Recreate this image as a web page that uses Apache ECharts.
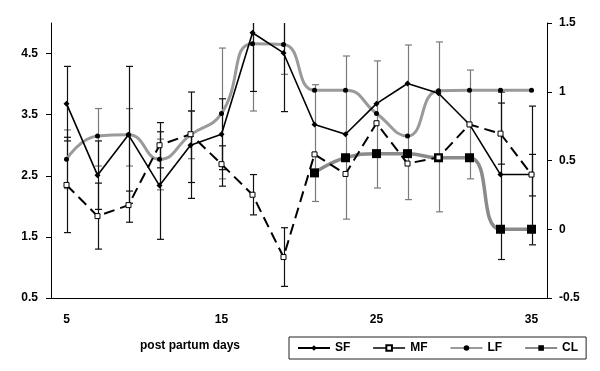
<!DOCTYPE html>
<html>
<head>
<meta charset="utf-8">
<script src="https://cdn.jsdelivr.net/npm/echarts@6/dist/echarts.min.js"></script>
<style>
  html, body { margin: 0; padding: 0; background: #fff; }
  #chart { width: 600px; height: 371px; }
</style>
</head>
<body>
<div id="chart"></div>
<script>
// days post partum (category axis, every 2nd day)
const days = ['5', '7', '9', '11', '13', '15', '17', '19', '21', '23', '25', '27', '29', '31', '33', '35'];

// left axis series
const sf = [3.68, 2.51, 3.17, 2.34, 3.0, 3.18, 4.84, 4.51, 3.34, 3.18, 3.68, 4.01, 3.85, 3.34, 2.52, 2.52];
const mf = [2.35, 1.84, 2.02, 3.0, 3.18, 2.69, 2.19, 1.17, 2.85, 2.53, 3.36, 2.70, 2.80, 3.34, 3.19, 2.52];
const lf = [2.77, 3.15, 3.17, 2.77, 3.17, 3.52, 4.66, 4.65, 3.90, 3.90, 3.52, 3.15, 3.89, 3.90, 3.90, 3.90];
// right axis series
const cl = [null, null, null, null, null, null, null, null, 0.41, 0.52, 0.55, 0.55, 0.52, 0.52, 0.0, 0.0];

// error bars [low, high] on the left axis
const sfErr = [[3.07, 4.29], [1.95, 3.07], [2.05, 4.29], [1.46, 3.22], [2.13, 3.87], [2.6, 3.76], [3.88, 5.8], [3.55, 5.47],
  null, null, null, null, null, null, [1.13, 3.87], [1.37, 3.64]];
const mfErr = [[1.57, 3.13], [1.30, 2.38], [1.74, 2.25], [2.63, 3.37], [2.39, 3.56], [2.33, 2.99], [1.86, 2.52], [0.69, 1.65],
  null, null, null, null, null, null, [2.69, 3.69], [2.17, 2.85]];
const lfErr = [[2.29, 3.25], [2.66, 3.60], [2.66, 3.60], [2.27, 3.10], [2.78, 3.56], [2.45, 4.59], [3.56, 5.76], [4.16, 5.14],
  [2.08, 3.99], [1.79, 4.46], [2.30, 4.38], [2.11, 4.64], [1.91, 4.69], [2.45, 4.23], null, null];

const leftTicks = [0.5, 1.5, 2.5, 3.5, 4.5];
const font = 'Liberation Sans, Arial, sans-serif';

function errData(arr) {
    return arr.map((d, i) => (d ? [i, d[0], d[1]] : null)).filter(Boolean);
}

function errSeries(arr, color) {
    return {
        type: 'custom',
        yAxisIndex: 0,
        clip: true,
        z: 1,
        silent: true,
        data: errData(arr),
        encode: { x: 0, y: [1, 2] },
        renderItem(params, api) {
            const i = api.value(0);
            const lo = api.coord([i, api.value(1)]);
            const hi = api.coord([i, api.value(2)]);
            const x = Math.round(lo[0]) + 0.5;
            const w = 3.5;
            const st = { stroke: color, lineWidth: 1.2 };
            return {
                type: 'group',
                children: [
                    { type: 'line', shape: { x1: x, y1: lo[1], x2: x, y2: hi[1] }, style: st },
                    { type: 'line', shape: { x1: x - w, y1: lo[1], x2: x + w, y2: lo[1] }, style: st },
                    { type: 'line', shape: { x1: x - w, y1: hi[1], x2: x + w, y2: hi[1] }, style: st }
                ]
            };
        }
    };
}

const chart = echarts.init(document.getElementById('chart'));
chart.setOption({
    animation: false,
    backgroundColor: '#fff',
    textStyle: { fontFamily: font },
    grid: { left: 51, right: 53, top: 23, bottom: 73 },
    legend: {
        data: [
            { name: 'SF' },
            { name: 'MF', lineStyle: { type: 'solid', width: 1.6 } },
            { name: 'LF' },
            { name: 'CL' }
        ],
        left: 289,
        top: 337,
        padding: [5, 8],
        itemGap: 22,
        itemWidth: 32,
        itemHeight: 7,
        borderColor: '#222',
        borderWidth: 1,
        borderRadius: 0,
        textStyle: { fontFamily: font, fontWeight: 'bold', fontSize: 12, color: '#000' }
    },
    graphic: [{
        type: 'text',
        left: 140,
        top: 340,
        style: { text: 'post partum days', font: 'bold 12px ' + font, fill: '#000' }
    }],
    xAxis: {
        type: 'category',
        data: days,
        boundaryGap: true,
        axisLine: { onZero: false, lineStyle: { color: '#000', width: 1 } },
        axisTick: { interval: 0, length: 4, lineStyle: { color: '#000' } },
        axisLabel: { interval: 4, margin: 16, color: '#000', fontWeight: 'bold', fontSize: 12, fontFamily: font },
        splitLine: { show: false }
    },
    yAxis: [{
        type: 'value',
        min: 0.5,
        max: 5,
        interval: 1,
        axisLine: { show: true, lineStyle: { color: '#000', width: 1 } },
        axisTick: { show: true, length: 5, customValues: leftTicks, lineStyle: { color: '#000' } },
        axisLabel: { customValues: leftTicks, margin: 13, color: '#000', fontWeight: 'bold', fontSize: 12, fontFamily: font },
        splitLine: { show: false }
    }, {
        type: 'value',
        position: 'right',
        min: -0.5,
        max: 1.5,
        interval: 0.5,
        axisLine: { show: true, lineStyle: { color: '#000', width: 1 } },
        axisTick: { show: true, length: 5, lineStyle: { color: '#000' } },
        axisLabel: { margin: 12, color: '#000', fontWeight: 'bold', fontSize: 12, fontFamily: font },
        splitLine: { show: false }
    }],
    series: [
        errSeries(lfErr, '#7a7a7a'),
        errSeries(sfErr, '#111'),
        errSeries(mfErr, '#111'),
        {
            name: 'LF',
            type: 'line',
            yAxisIndex: 0,
            data: lf,
            smooth: 0.5,
            z: 3,
            symbol: 'circle',
            symbolSize: 5,
            itemStyle: { color: '#000' },
            lineStyle: { color: '#9a9a9a', width: 3 }
        },
        {
            name: 'CL',
            type: 'line',
            yAxisIndex: 1,
            data: cl,
            smooth: 0.5,
            z: 4,
            symbol: 'rect',
            symbolSize: 9,
            itemStyle: { color: '#000' },
            lineStyle: { color: '#8a8a8a', width: 3.5 }
        },
        {
            name: 'SF',
            type: 'line',
            yAxisIndex: 0,
            data: sf,
            z: 5,
            symbol: 'diamond',
            symbolSize: 6,
            itemStyle: { color: '#000' },
            lineStyle: { color: '#000', width: 1.6 }
        },
        {
            name: 'MF',
            type: 'line',
            yAxisIndex: 0,
            data: mf,
            z: 5,
            symbol: 'rect',
            symbolSize: 5,
            itemStyle: { color: '#fff', borderColor: '#000', borderWidth: 1 },
            lineStyle: { color: '#000', width: 2, type: [11, 6] }
        }
    ]
});
</script>
</body>
</html>
